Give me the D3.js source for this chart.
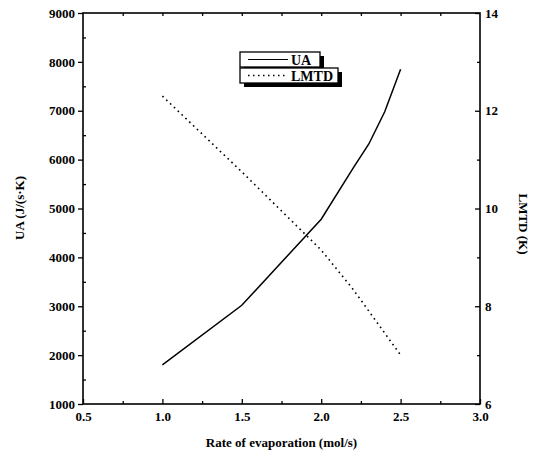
<!DOCTYPE html>
<html lang="en">
<head>
  <meta charset="UTF-8">
  <title>UA and LMTD</title>
  <script src="https://cdnjs.cloudflare.com/ajax/libs/d3/7.8.5/d3.min.js"></script>
  <style>
    body { margin: 0; background: #fff; }
    text { font-family: "Liberation Serif", "DejaVu Serif", serif; font-weight: bold; fill: #000; }
  </style>
</head>
<body>
  <div id="chart"></div>
  <script>
// data
var rate = [1.0, 1.5, 2.0, 2.2, 2.3, 2.4, 2.5];
var ua = [1800, 3020, 4780, 5820, 6320, 6980, 7850];
var lmtd = [12.3, 10.75, 9.15, 8.35, 7.9, 7.45, 7.0];

var xTicks = [0.5, 1.0, 1.5, 2.0, 2.5, 3.0];
var uaTicks = [1000, 2000, 3000, 4000, 5000, 6000, 7000, 8000, 9000];
var lmtdTicks = [6, 8, 10, 12, 14];

var svgWidth = 535;
var svgHeight = 457;
var margin = { top: 13, right: 55, bottom: 53, left: 83 };
var width = svgWidth - margin.left - margin.right;
var height = svgHeight - margin.top - margin.bottom;

var svg = d3.select("#chart")
  .append("svg")
  .attr("width", svgWidth)
  .attr("height", svgHeight);

var chartGroup = svg.append("g")
  .attr("transform", `translate(${margin.left}, ${margin.top})`);

var x = d3.scaleLinear().domain([0.5, 3.0]).range([0, width]);
var yLeft = d3.scaleLinear().domain([1000, 9000]).range([height, 0]);
var yRight = d3.scaleLinear().domain([6, 14]).range([height, 0]);

function styleAxis(g) {
  g.select(".domain").remove();
  g.selectAll("line").attr("stroke", "#000").attr("stroke-width", 1.3);
  g.selectAll("text").style("font-size", "13px");
}

// minor ticks first
chartGroup.append("g")
  .call(d3.axisLeft(yLeft).tickValues(d3.range(1500, 9000, 1000)).tickSize(-3).tickFormat(""))
  .call(styleAxis);
chartGroup.append("g")
  .attr("transform", `translate(${width}, 0)`)
  .call(d3.axisRight(yRight).tickValues([7, 9, 11, 13]).tickSize(-3).tickFormat(""))
  .call(styleAxis);
chartGroup.append("g")
  .attr("transform", `translate(0, ${height})`)
  .call(d3.axisBottom(x).tickValues(d3.range(0.75, 3, 0.5)).tickSize(-3).tickFormat(""))
  .call(styleAxis);
chartGroup.append("g")
  .call(d3.axisTop(x).tickValues(d3.range(0.75, 3, 0.25)).tickSize(-3).tickFormat(""))
  .call(styleAxis);

// major ticks
chartGroup.append("g")
  .call(d3.axisLeft(yLeft).tickValues(uaTicks).tickSize(5).tickPadding(3).tickFormat(d3.format("d")))
  .call(styleAxis);
chartGroup.append("g")
  .attr("transform", `translate(${width}, 0)`)
  .call(d3.axisRight(yRight).tickValues(lmtdTicks).tickSize(-5).tickPadding(5).tickFormat(d3.format("d")))
  .call(styleAxis);
chartGroup.append("g")
  .attr("transform", `translate(0, ${height})`)
  .call(d3.axisBottom(x).tickValues(xTicks).tickSize(-5).tickPadding(8).tickFormat(d3.format(".1f")))
  .call(styleAxis);

// frame
chartGroup.append("rect")
  .attr("width", width)
  .attr("height", height)
  .attr("fill", "none")
  .attr("stroke", "#000")
  .attr("stroke-width", 1.6);

// lines
var uaLine = d3.line().x((d, i) => x(rate[i])).y(d => yLeft(d));
var lmtdLine = d3.line().x((d, i) => x(rate[i])).y(d => yRight(d));

chartGroup.append("path")
  .datum(ua)
  .attr("d", uaLine)
  .attr("fill", "none")
  .attr("stroke", "#000")
  .attr("stroke-width", 1.5);

chartGroup.append("path")
  .datum(lmtd)
  .attr("d", lmtdLine)
  .attr("fill", "none")
  .attr("stroke", "#000")
  .attr("stroke-width", 1.6)
  .attr("stroke-dasharray", "1.6,3.7");

// axis titles
svg.append("text")
  .attr("transform", "translate(24, 208) rotate(-90)")
  .attr("text-anchor", "middle")
  .style("font-size", "13px")
  .text("UA (J/(s·K)");

svg.append("text")
  .attr("transform", "translate(519, 224) rotate(90)")
  .attr("text-anchor", "middle")
  .style("font-size", "13px")
  .text("LMTD (K)");

svg.append("text")
  .attr("x", margin.left + width / 2)
  .attr("y", 447)
  .attr("text-anchor", "middle")
  .style("font-size", "13px")
  .text("Rate of evaporation (mol/s)");

// legend boxes with drop shadow
var legend = [
  { name: "UA", dash: null, x: 240, y: 52, w: 80, h: 15 },
  { name: "LMTD", dash: "1.5,3.5", x: 240, y: 68, w: 98, h: 15 }
];
var legendGroup = svg.append("g");
legend.forEach(function(d) {
  legendGroup.append("rect")
    .attr("x", d.x + 4).attr("y", d.y + 4)
    .attr("width", d.w).attr("height", d.h)
    .attr("fill", "#000");
  legendGroup.append("rect")
    .attr("x", d.x).attr("y", d.y)
    .attr("width", d.w).attr("height", d.h)
    .attr("fill", "#fff")
    .attr("stroke", "#000")
    .attr("stroke-width", 1.3);
  legendGroup.append("line")
    .attr("x1", d.x + 8).attr("x2", d.x + 48)
    .attr("y1", d.y + d.h / 2).attr("y2", d.y + d.h / 2)
    .attr("stroke", "#000")
    .attr("stroke-width", d.dash ? 1.4 : 1.2)
    .attr("stroke-dasharray", d.dash);
  legendGroup.append("text")
    .attr("x", d.x + 51)
    .attr("y", d.y + d.h / 2 + 5)
    .style("font-size", "14px")
    .text(d.name);
});
  </script>
</body>
</html>
